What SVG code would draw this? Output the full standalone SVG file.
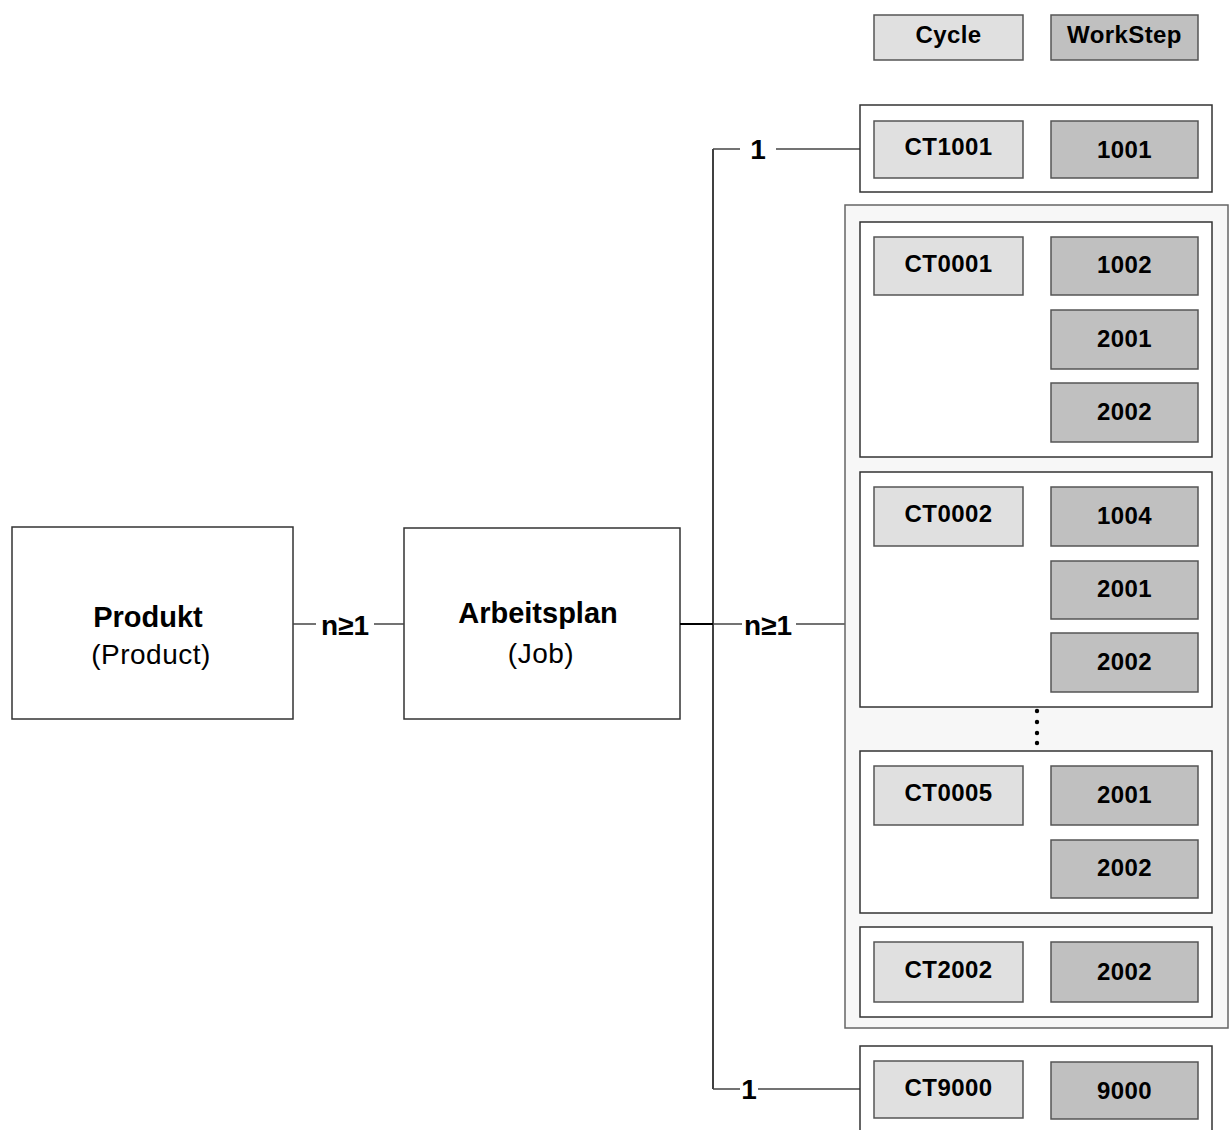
<svg xmlns="http://www.w3.org/2000/svg" width="1229" height="1130" viewBox="0 0 1229 1130">
  <style>
    text { font-family: "Liberation Sans", Arial, sans-serif; fill: #000; }
    .main { fill: #fff; stroke: #333; stroke-width: 1.5; }
    .outer { fill: #f7f7f7; stroke: #666; stroke-width: 1.5; }
    .grp { fill: #fff; stroke: #333; stroke-width: 1.5; }
    .cyc { fill: #e0e0e0; stroke: #555; stroke-width: 1.5; }
    .ws { fill: #c0c0c0; stroke: #555; stroke-width: 1.5; }
    .lbl { font-size: 24px; font-weight: bold; text-anchor: middle; letter-spacing: 0.4px; }
    .title { font-size: 29px; font-weight: bold; text-anchor: middle; }
    .sub { font-size: 28px; text-anchor: middle; letter-spacing: 0.5px; }
    .card { font-size: 28px; font-weight: bold; text-anchor: middle; }
    .wire { stroke: #444; stroke-width: 1.5; fill: none; }
  </style>

  <!-- legend -->
  <g id="legend">
    <rect class="cyc" x="874" y="15" width="149" height="45"/>
    <text class="lbl" x="948.5" y="43">Cycle</text>
    <rect class="ws" x="1051" y="15" width="147" height="45"/>
    <text class="lbl" x="1124.5" y="43">WorkStep</text>
  </g>

  <!-- main entities -->
  <g id="produkt">
    <rect class="main" x="12" y="527" width="281" height="192"/>
    <text class="title" x="148" y="627">Produkt</text>
    <text class="sub" x="151" y="664">(Product)</text>
  </g>
  <g id="arbeitsplan">
    <rect class="main" x="404" y="528" width="276" height="191"/>
    <text class="title" x="538" y="623">Arbeitsplan</text>
    <text class="sub" x="541" y="663">(Job)</text>
  </g>

  <!-- connectors -->
  <g id="connectors">
    <line class="wire" x1="293" y1="624" x2="316" y2="624"/>
    <line class="wire" x1="374" y1="624" x2="404" y2="624"/>
    <text class="card" x="345" y="635">n≥1</text>

    <line x1="680" y1="624" x2="713" y2="624" stroke="#000" stroke-width="2"/>
    <line x1="713" y1="149" x2="713" y2="1089" stroke="#000" stroke-width="1.5"/>

    <line class="wire" x1="713" y1="149" x2="740" y2="149"/>
    <line class="wire" x1="776" y1="149" x2="860" y2="149"/>
    <text class="card" x="758" y="159">1</text>

    <line class="wire" x1="713" y1="624" x2="742" y2="624"/>
    <line class="wire" x1="796" y1="624" x2="845" y2="624"/>
    <text class="card" x="768" y="635">n≥1</text>

    <line class="wire" x1="713" y1="1089" x2="740" y2="1089"/>
    <line class="wire" x1="758" y1="1089" x2="860" y2="1089"/>
    <text class="card" x="749" y="1099">1</text>
  </g>

  <!-- first cycle -->
  <g id="ct1001">
    <rect class="grp" x="860" y="105" width="352" height="87"/>
    <rect class="cyc" x="874" y="121" width="149" height="57"/>
    <text class="lbl" x="948.5" y="155">CT1001</text>
    <rect class="ws" x="1051" y="121" width="147" height="57"/>
    <text class="lbl" x="1124.5" y="158">1001</text>
  </g>

  <!-- repeated cycles -->
  <g id="cycles">
    <rect class="outer" x="845" y="205" width="383" height="823"/>

    <g id="ct0001">
      <rect class="grp" x="860" y="222" width="352" height="235"/>
      <rect class="cyc" x="874" y="237" width="149" height="58"/>
      <text class="lbl" x="948.5" y="272">CT0001</text>
      <rect class="ws" x="1051" y="237" width="147" height="58"/>
      <text class="lbl" x="1124.5" y="273">1002</text>
      <rect class="ws" x="1051" y="310" width="147" height="59"/>
      <text class="lbl" x="1124.5" y="347">2001</text>
      <rect class="ws" x="1051" y="383" width="147" height="59"/>
      <text class="lbl" x="1124.5" y="420">2002</text>
    </g>

    <g id="ct0002">
      <rect class="grp" x="860" y="472" width="352" height="235"/>
      <rect class="cyc" x="874" y="487" width="149" height="59"/>
      <text class="lbl" x="948.5" y="522">CT0002</text>
      <rect class="ws" x="1051" y="487" width="147" height="59"/>
      <text class="lbl" x="1124.5" y="524">1004</text>
      <rect class="ws" x="1051" y="561" width="147" height="58"/>
      <text class="lbl" x="1124.5" y="597">2001</text>
      <rect class="ws" x="1051" y="633" width="147" height="59"/>
      <text class="lbl" x="1124.5" y="670">2002</text>
    </g>

    <g id="ellipsis" fill="#000">
      <circle cx="1037" cy="711" r="2.2"/>
      <circle cx="1037" cy="722" r="2.2"/>
      <circle cx="1037" cy="733" r="2.2"/>
      <circle cx="1037" cy="743" r="2.2"/>
    </g>

    <g id="ct0005">
      <rect class="grp" x="860" y="751" width="352" height="162"/>
      <rect class="cyc" x="874" y="766" width="149" height="59"/>
      <text class="lbl" x="948.5" y="801">CT0005</text>
      <rect class="ws" x="1051" y="766" width="147" height="59"/>
      <text class="lbl" x="1124.5" y="803">2001</text>
      <rect class="ws" x="1051" y="840" width="147" height="58"/>
      <text class="lbl" x="1124.5" y="876">2002</text>
    </g>

    <g id="ct2002">
      <rect class="grp" x="860" y="927" width="352" height="90"/>
      <rect class="cyc" x="874" y="942" width="149" height="60"/>
      <text class="lbl" x="948.5" y="978">CT2002</text>
      <rect class="ws" x="1051" y="942" width="147" height="60"/>
      <text class="lbl" x="1124.5" y="980">2002</text>
    </g>
  </g>

  <!-- last cycle -->
  <g id="ct9000">
    <rect class="grp" x="860" y="1046" width="352" height="100"/>
    <rect class="cyc" x="874" y="1061" width="149" height="57"/>
    <text class="lbl" x="948.5" y="1096">CT9000</text>
    <rect class="ws" x="1051" y="1062" width="147" height="57"/>
    <text class="lbl" x="1124.5" y="1099">9000</text>
  </g>
</svg>
